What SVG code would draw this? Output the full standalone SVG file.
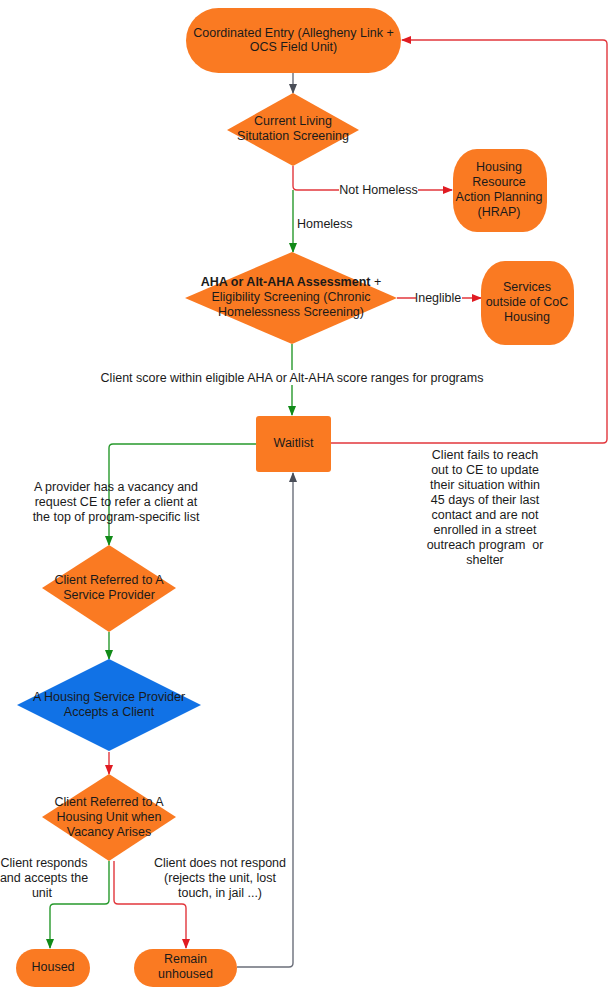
<svg xmlns="http://www.w3.org/2000/svg" width="610" height="988" viewBox="0 0 610 988">
<defs>
<style>
.n{fill:#FA7A22;}
.b{fill:#1172E6;}
text{font-family:"Liberation Sans",Arial,sans-serif;font-size:12.5px;fill:#1a1a1a;text-anchor:middle;}
.l{text-anchor:start;}
.c{fill:none;stroke-width:1.4;}
.r{stroke:#E2373D;}
.g{stroke:#27992C;}
.k{stroke:#6B6F7A;}
.bg{fill:#fff;}
</style>
<marker id="ar" markerWidth="10" markerHeight="8" refX="9" refY="4" orient="auto" markerUnits="userSpaceOnUse"><path d="M0,0 L10,4 L0,8 Z" fill="#E01B22"/></marker>
<marker id="ag" markerWidth="10" markerHeight="8" refX="9" refY="4" orient="auto" markerUnits="userSpaceOnUse"><path d="M0,0 L10,4 L0,8 Z" fill="#118A18"/></marker>
<marker id="ak" markerWidth="10" markerHeight="8" refX="9" refY="4" orient="auto" markerUnits="userSpaceOnUse"><path d="M0,0 L10,4 L0,8 Z" fill="#4A4E58"/></marker>
</defs>
<rect width="610" height="988" fill="#fff"/>

<g id="connectors">
<path class="c k" d="M293,73 V93" marker-end="url(#ak)"/>
<path class="c r" d="M293,166 V186 Q293,190 297,190 H452" marker-end="url(#ar)"/>
<path class="c g" d="M293,190 V252" marker-end="url(#ag)"/>
<path class="c r" d="M397,298 H481" marker-end="url(#ar)"/>
<path class="c g" d="M292,344 V415" marker-end="url(#ag)"/>
<path class="c r" d="M331,443 H603 Q607,443 607,439 V44 Q607,40 603,40 H402" marker-end="url(#ar)"/>
<path class="c g" d="M256,444 H113 Q109,444 109,448 V545" marker-end="url(#ag)"/>
<path class="c g" d="M109,632 V659" marker-end="url(#ag)"/>
<path class="c r" d="M109,752 V774" marker-end="url(#ar)"/>
<path class="c g" d="M109,861 V900 Q109,904 105,904 H54 Q50,904 50,908 V948" marker-end="url(#ag)"/>
<path class="c r" d="M114,861 V900 Q114,904 118,904 H182 Q186,904 186,908 V948" marker-end="url(#ar)"/>
<path class="c k" d="M237,967 H289 Q293,967 293,963 V473" marker-end="url(#ak)"/>
<rect class="bg" x="339" y="182" width="79" height="15"/>
<text x="378.5" y="194">Not Homeless</text>
<text class="l" x="297" y="228">Homeless</text>
<rect class="bg" x="416" y="290" width="46" height="15"/>
<text x="438" y="302">Ineglible</text>
<rect class="bg" x="98" y="370" width="388" height="15"/>
<text x="292" y="382">Client score within eligible AHA or Alt-AHA score ranges for programs</text>
<text x="485" y="459">Client fails to reach</text>
<text x="485" y="474">out to CE to update</text>
<text x="485" y="489">their situation within</text>
<text x="485" y="504">45 days of their last</text>
<text x="485" y="519">contact and are not</text>
<text x="485" y="534">enrolled in a street</text>
<text x="485" y="549" xml:space="preserve">outreach program  or</text>
<text x="485" y="564">shelter</text>
<text x="116" y="491">A provider has a vacancy and</text>
<text x="116" y="506">request CE to refer a client at</text>
<text x="116" y="521">the top of program-specific list</text>
<text x="44" y="867">Client responds</text>
<text x="44" y="882">and accepts the</text>
<text x="42" y="897">unit</text>
<text x="220" y="867">Client does not respond</text>
<text x="220" y="882">(rejects the unit, lost</text>
<text x="220" y="897">touch, in jail ...)</text>
</g>

<g id="coordinated-entry">
<rect class="n" x="186" y="8" width="215" height="65" rx="32.5"/>
<text x="293.5" y="37">Coordinated Entry (Allegheny Link +</text>
<text x="293.5" y="51">OCS Field Unit)</text>
</g>

<g id="living-situation">
<polygon class="n" points="293,93 359,130 293,166 227,130"/>
<text x="293" y="125">Current Living</text>
<text x="293" y="140">Situtation Screening</text>
</g>

<g id="hrap">
<rect class="n" x="453" y="149" width="94" height="83" rx="24" ry="30"/>
<text x="499" y="171">Housing</text>
<text x="499" y="186">Resource</text>
<text x="499" y="201">Action Planning</text>
<text x="499" y="216">(HRAP)</text>
</g>

<g id="assessment">
<polygon class="n" points="292,252 397,298 292,344 185,298"/>
<text x="291" y="286"><tspan font-weight="bold">AHA or Alt-AHA Assessment</tspan> +</text>
<text x="291" y="301">Eligibility Screening (Chronic</text>
<text x="291" y="316">Homelessness Screening)</text>
</g>

<g id="services-outside">
<rect class="n" x="481" y="261" width="93" height="84" rx="24" ry="30"/>
<text x="527" y="291">Services</text>
<text x="527" y="306">outside of CoC</text>
<text x="527" y="321">Housing</text>
</g>

<g id="waitlist">
<rect class="n" x="256" y="416" width="75" height="56" rx="3"/>
<text x="293.5" y="447">Waitlist</text>
</g>

<g id="referred-provider">
<polygon class="n" points="109,545 176,588 109,632 42,588"/>
<text x="109" y="584">Client Referred to A</text>
<text x="109" y="599">Service Provider</text>
</g>

<g id="provider-accepts">
<polygon class="b" points="109,659 201,705 109,751 17,705"/>
<text x="109" y="701">A Housing Service Provider</text>
<text x="109" y="716">Accepts a Client</text>
</g>

<g id="referred-unit">
<polygon class="n" points="109,774 176,817 109,861 42,817"/>
<text x="109" y="806">Client Referred to A</text>
<text x="109" y="821">Housing Unit when</text>
<text x="109" y="836">Vacancy Arises</text>
</g>

<g id="housed">
<rect class="n" x="16" y="949" width="74" height="38" rx="19"/>
<text x="53" y="971">Housed</text>
</g>

<g id="remain-unhoused">
<rect class="n" x="134" y="949" width="103" height="38" rx="19"/>
<text x="185.5" y="963">Remain</text>
<text x="185.5" y="978">unhoused</text>
</g>
</svg>
